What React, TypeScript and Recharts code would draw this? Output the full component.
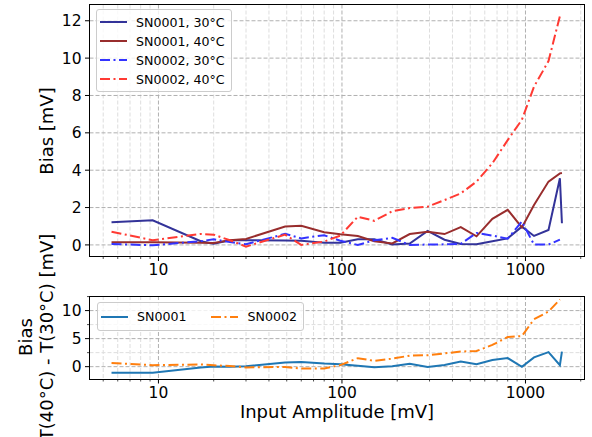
import { CartesianGrid, Line, LineChart, XAxis, YAxis } from "recharts";

// input amplitude [mV], shared by every series
const amplitude = [
  5.55, 9.3, 17, 20, 24.5, 30, 49, 60, 80, 98, 122, 150, 188, 234, 293, 362,
  444, 541, 660, 800, 956, 1113, 1335, 1540, 1580,
];

// bias [mV]
const sn1At30 = [
  1.21, 1.32, 0.2, 0.06, 0.25, 0.25, 0.24, 0.22, 0.12, 0.12, 0.3, 0.3, 0.02,
  0.07, 0.75, 0.28, 0.05, 0.04, 0.2, 0.35, 0.98, 0.48, 0.8, 3.57, 1.16,
];
const sn1At40 = [
  0.14, 0.14, 0.12, 0.1, 0.25, 0.32, 0.98, 1.03, 0.68, 0.57, 0.48, 0.2, 0.08,
  0.58, 0.71, 0.58, 0.95, 0.46, 1.4, 1.88, 0.94, 2.14, 3.39, 3.83, 3.85,
];
const sn2At30 = [
  0.05, -0.02, 0.2, 0.3, 0.15, 0.04, 0.59, 0.35, 0.52, 0.22, 0.0, 0.25, 0.38,
  0.0, 0.02, 0.03, 0.06, 0.64, 0.5, 0.33, 1.25, 0.02, 0.02, 0.28, null,
];
const sn2At40 = [
  0.71, 0.25, 0.59, 0.55, 0.25, -0.09, 0.55, 0.0, 0.18, 0.5, 1.51, 1.29, 1.8,
  1.97, 2.05, 2.4, 2.76, 3.39, 4.37, 5.61, 6.7, 8.47, 9.84, 12.25, null,
];

// bias difference T(40) - T(30) [mV]
const sn1Diff = [
  -1.07, -1.08, -0.15, 0.04, 0.0, 0.07, 0.74, 0.81, 0.56, 0.45, 0.18, -0.1,
  0.06, 0.51, -0.04, 0.3, 0.9, 0.42, 1.2, 1.53, -0.04, 1.66, 2.59, 0.26, 2.69,
];
const sn2Diff = [
  0.66, 0.27, 0.39, 0.25, 0.1, -0.13, -0.04, -0.35, -0.34, 0.28, 1.51, 1.04,
  1.42, 1.97, 2.03, 2.37, 2.7, 2.8, 3.87, 5.28, 5.45, 8.45, 9.82, 11.97, null,
];

const majorX = [10, 100, 1000];
const minorX = [
  5, 6, 7, 8, 9, 20, 30, 40, 50, 60, 70, 80, 90, 200, 300, 400, 500, 600, 700,
  800, 900, 2000,
];
const topYTicks = [0, 2, 4, 6, 8, 10, 12];
const bottomYTicks = [0, 5, 10];
const bottomYMinor = [2.5, 7.5, 12.5];

const X_DOMAIN = [4.21, 2097];
const FONT = "'DejaVu Sans', sans-serif";
const MAJOR_GRID = "#b0b0b0";
const MINOR_GRID = "#dedede";
const DASH_DOT = "10 3.5 2 3.5";

const topData = amplitude.map((amp, i) => ({
  amp,
  sn1At30: sn1At30[i],
  sn1At40: sn1At40[i],
  sn2At30: sn2At30[i],
  sn2At40: sn2At40[i],
}));

const bottomData = amplitude.map((amp, i) => ({
  amp,
  sn1Diff: sn1Diff[i],
  sn2Diff: sn2Diff[i],
}));

const topSeries = [
  { key: "sn1At30", name: "SN0001, 30°C", color: "#333399", dash: undefined },
  { key: "sn1At40", name: "SN0001, 40°C", color: "#982d2d", dash: undefined },
  { key: "sn2At30", name: "SN0002, 30°C", color: "#3333ff", dash: DASH_DOT },
  { key: "sn2At40", name: "SN0002, 40°C", color: "#ff3a33", dash: DASH_DOT },
];

const bottomSeries = [
  { key: "sn1Diff", name: "SN0001", color: "#1f77b4", dash: undefined },
  { key: "sn2Diff", name: "SN0002", color: "#ff7f0e", dash: DASH_DOT },
];

function XTick(props: any) {
  const { x, y, payload } = props;
  const major = majorX.includes(payload.value);
  return (
    <g>
      <line x1={x} x2={x} y1={y} y2={y + (major ? 4.5 : 2.5)} stroke="#000" strokeWidth={major ? 1 : 0.7} />
      {major && (
        <text x={x} y={y + 18.5} textAnchor="middle" fontSize={15.5} fill="#000" fontFamily={FONT}>
          {payload.value}
        </text>
      )}
    </g>
  );
}

function makeYTick(majors: number[]) {
  return function YTick(props: any) {
    const { x, y, payload } = props;
    const major = majors.includes(payload.value);
    return (
      <g>
        <line x1={x - (major ? 4.5 : 2.5)} x2={x} y1={y} y2={y} stroke="#000" strokeWidth={major ? 1 : 0.7} />
        {major && (
          <text x={x - 8} y={y + 5.6} textAnchor="end" fontSize={15.5} fill="#000" fontFamily={FONT}>
            {payload.value}
          </text>
        )}
      </g>
    );
  };
}

const TopYTick = makeYTick(topYTicks);
const BottomYTick = makeYTick(bottomYTicks);

function Sample({ color, dash }: { color: string; dash?: string }) {
  return (
    <svg width={27} height={6} style={{ display: "block", marginRight: 9 }}>
      <line x1={0} x2={27} y1={3} y2={3} stroke={color} strokeWidth={2} strokeDasharray={dash} />
    </svg>
  );
}

function Frame({ left, top, width, height }: { left: number; top: number; width: number; height: number }) {
  return (
    <div
      style={{
        position: "absolute",
        left,
        top,
        width,
        height,
        boxSizing: "border-box",
        border: "1px solid #000",
        pointerEvents: "none",
      }}
    />
  );
}

function VLabel({ cx, cy, text }: { cx: number; cy: number; text: string }) {
  return (
    <div
      style={{
        position: "absolute",
        left: cx,
        top: cy,
        transform: "translate(-50%, -50%) rotate(-90deg)",
        whiteSpace: "nowrap",
        fontSize: 18,
        lineHeight: "20px",
      }}
    >
      {text}
    </div>
  );
}

export default function App() {
  return (
    <div
      style={{
        position: "absolute",
        left: 0,
        top: 0,
        width: 592,
        height: 437,
        background: "#fff",
        fontFamily: FONT,
        color: "#000",
        overflow: "hidden",
      }}
    >
      <div style={{ position: "absolute", left: 0, top: 0 }}>
        <LineChart width={592} height={290} data={topData} margin={{ top: 4.5, right: 7.5, bottom: 0, left: 0 }}>
          <CartesianGrid horizontal={false} verticalValues={minorX} stroke={MINOR_GRID} strokeDasharray="4 2" />
          <CartesianGrid horizontal={false} verticalValues={majorX} stroke={MAJOR_GRID} strokeDasharray="4 2" />
          <CartesianGrid vertical={false} horizontalValues={topYTicks} stroke={MAJOR_GRID} strokeDasharray="4 2" />
          <XAxis
            dataKey="amp"
            type="number"
            scale="log"
            domain={X_DOMAIN}
            allowDataOverflow
            ticks={[...minorX, ...majorX]}
            interval={0}
            height={33.5}
            tickSize={0}
            tickMargin={0}
            axisLine={false}
            tickLine={false}
            tick={<XTick />}
          />
          <YAxis
            type="number"
            domain={[-0.62, 12.87]}
            allowDataOverflow
            ticks={topYTicks}
            interval={0}
            width={89.5}
            tickSize={0}
            tickMargin={0}
            axisLine={false}
            tickLine={false}
            tick={<TopYTick />}
          />
          {topSeries.map((s) => (
            <Line
              key={s.key}
              type="linear"
              dataKey={s.key}
              stroke={s.color}
              strokeWidth={2}
              strokeDasharray={s.dash}
              dot={false}
              activeDot={false}
              isAnimationActive={false}
            />
          ))}
        </LineChart>
      </div>
      <Frame left={89} top={4} width={496} height={253} />

      <div style={{ position: "absolute", left: 0, top: 280 }}>
        <LineChart width={592} height={157} data={bottomData} margin={{ top: 16, right: 7.5, bottom: 0, left: 0 }}>
          <CartesianGrid horizontal={false} verticalValues={minorX} stroke={MINOR_GRID} strokeDasharray="4 2" />
          <CartesianGrid vertical={false} horizontalValues={bottomYMinor} stroke={MINOR_GRID} strokeDasharray="4 2" />
          <CartesianGrid horizontal={false} verticalValues={majorX} stroke={MAJOR_GRID} strokeDasharray="4 2" />
          <CartesianGrid vertical={false} horizontalValues={bottomYTicks} stroke={MAJOR_GRID} strokeDasharray="4 2" />
          <XAxis
            dataKey="amp"
            type="number"
            scale="log"
            domain={X_DOMAIN}
            allowDataOverflow
            ticks={[...minorX, ...majorX]}
            interval={0}
            height={58}
            tickSize={0}
            tickMargin={0}
            axisLine={false}
            tickLine={false}
            tick={<XTick />}
          />
          <YAxis
            type="number"
            domain={[-2.2, 12.6]}
            allowDataOverflow
            ticks={[...bottomYTicks, ...bottomYMinor]}
            interval={0}
            width={89.5}
            tickSize={0}
            tickMargin={0}
            axisLine={false}
            tickLine={false}
            tick={<BottomYTick />}
          />
          {bottomSeries.map((s) => (
            <Line
              key={s.key}
              type="linear"
              dataKey={s.key}
              stroke={s.color}
              strokeWidth={2}
              strokeDasharray={s.dash}
              dot={false}
              activeDot={false}
              isAnimationActive={false}
            />
          ))}
        </LineChart>
      </div>
      <Frame left={89} top={295.5} width={496} height={84.5} />

      {/* legends */}
      <div
        style={{
          position: "absolute",
          left: 96,
          top: 9,
          border: "1px solid #cccccc",
          borderRadius: 3,
          background: "rgba(255,255,255,0.8)",
          padding: "3px 6px 2px 3px",
        }}
      >
        {topSeries.map((s) => (
          <div key={s.key} style={{ display: "flex", alignItems: "center", height: 18.9, fontSize: 12.6 }}>
            <Sample color={s.color} dash={s.dash} />
            <span>{s.name}</span>
          </div>
        ))}
      </div>
      <div
        style={{
          position: "absolute",
          left: 97,
          top: 302,
          height: 29,
          boxSizing: "border-box",
          border: "1px solid #cccccc",
          borderRadius: 3,
          background: "rgba(255,255,255,0.8)",
          padding: "0 6px 0 3px",
          display: "flex",
          alignItems: "center",
          fontSize: 12.6,
        }}
      >
        {bottomSeries.map((s, i) => (
          <div key={s.key} style={{ display: "flex", alignItems: "center", marginLeft: i ? 25 : 0 }}>
            <Sample color={s.color} dash={s.dash} />
            <span>{s.name}</span>
          </div>
        ))}
      </div>

      {/* axis labels */}
      <VLabel cx={47} cy={130.5} text="Bias [mV]" />
      <VLabel cx={26} cy={337} text="Bias" />
      <VLabel cx={47} cy={337} text="T(40°C) - T(30°C) [mV]" />
      <div
        style={{
          position: "absolute",
          left: 337,
          top: 412,
          transform: "translate(-50%, -50%)",
          whiteSpace: "nowrap",
          fontSize: 18,
          lineHeight: "20px",
        }}
      >
        Input Amplitude [mV]
      </div>
    </div>
  );
}
